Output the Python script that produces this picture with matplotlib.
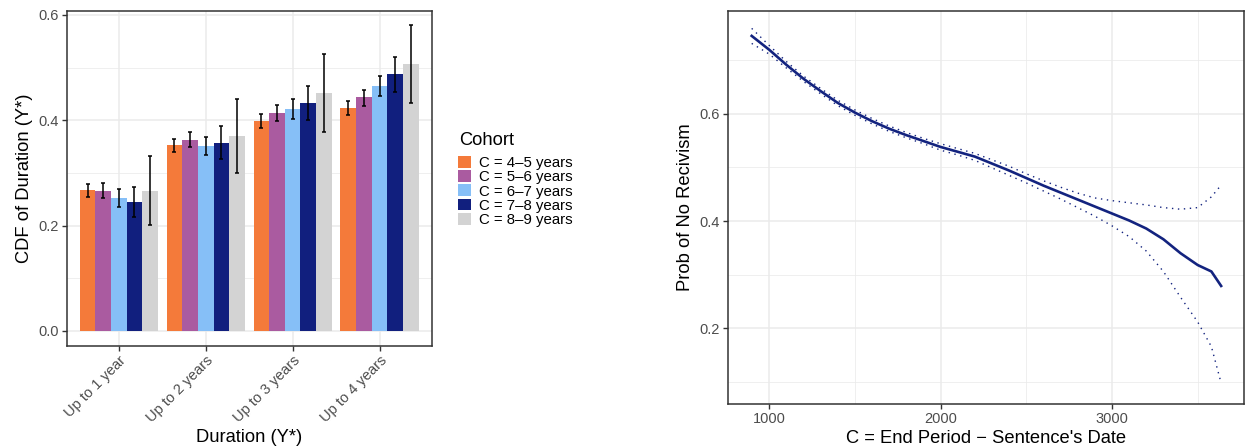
import numpy as np
import matplotlib
matplotlib.use("Agg")
import matplotlib.pyplot as plt
from matplotlib.ticker import FixedLocator

plt.rcParams['font.family'] = ['Liberation Sans', 'DejaVu Sans']

# ---- left panel data: CDF of duration by cohort ----
durations = ['Up to 1 year', 'Up to 2 years', 'Up to 3 years', 'Up to 4 years']
cohorts = ['C = 4\u20135 years', 'C = 5\u20136 years', 'C = 6\u20137 years',
           'C = 7\u20138 years', 'C = 8\u20139 years']
cohort_colors = ['#F47A3A', '#AA5BA0', '#86BFF7', '#111F7E', '#D3D3D3']

cdf_4_5 = [0.268, 0.353, 0.399, 0.423]
cdf_5_6 = [0.266, 0.363, 0.414, 0.444]
cdf_6_7 = [0.253, 0.351, 0.422, 0.465]
cdf_7_8 = [0.245, 0.357, 0.433, 0.488]
cdf_8_9 = [0.266, 0.370, 0.452, 0.507]

lo_4_5 = [0.255, 0.339, 0.385, 0.410]
hi_4_5 = [0.279, 0.365, 0.412, 0.437]
lo_5_6 = [0.253, 0.349, 0.399, 0.428]
hi_5_6 = [0.280, 0.377, 0.429, 0.458]
lo_6_7 = [0.236, 0.334, 0.403, 0.446]
hi_6_7 = [0.269, 0.369, 0.440, 0.484]
lo_7_8 = [0.216, 0.326, 0.401, 0.454]
hi_7_8 = [0.273, 0.389, 0.466, 0.520]
lo_8_9 = [0.201, 0.299, 0.378, 0.433]
hi_8_9 = [0.332, 0.441, 0.525, 0.581]

# ---- right panel data: probability of no recidivism ----
period = [897, 1000, 1100, 1200, 1300, 1400, 1500, 1600, 1700, 1800, 1900,
          2000, 2100, 2200, 2300, 2400, 2500, 2600, 2700, 2800, 2900, 3000,
          3100, 3200, 3300, 3400, 3500, 3580, 3637]
prob = [0.745, 0.719, 0.691, 0.665, 0.642, 0.620, 0.602, 0.586, 0.572, 0.560,
        0.549, 0.538, 0.529, 0.520, 0.507, 0.494, 0.480, 0.466, 0.453, 0.440,
        0.427, 0.414, 0.401, 0.386, 0.366, 0.340, 0.318, 0.306, 0.279]
prob_hi = [0.759, 0.727, 0.697, 0.670, 0.647, 0.625, 0.607, 0.591, 0.577, 0.565,
           0.554, 0.544, 0.535, 0.526, 0.514, 0.502, 0.488, 0.475, 0.463, 0.452,
           0.443, 0.438, 0.434, 0.430, 0.425, 0.422, 0.425, 0.445, 0.467]
prob_lo = [0.731, 0.711, 0.685, 0.660, 0.637, 0.615, 0.597, 0.581, 0.567, 0.555,
           0.544, 0.532, 0.523, 0.513, 0.499, 0.485, 0.471, 0.456, 0.441, 0.425,
           0.409, 0.391, 0.371, 0.344, 0.306, 0.258, 0.212, 0.166, 0.098]

means = [cdf_4_5, cdf_5_6, cdf_6_7, cdf_7_8, cdf_8_9]
lows = [lo_4_5, lo_5_6, lo_6_7, lo_7_8, lo_8_9]
highs = [hi_4_5, hi_5_6, hi_6_7, hi_7_8, hi_8_9]

grid_major = '#EBEBEB'
text_grey = '#4D4D4D'
border = '#333333'
tick_size = 10.5
title_size = 13.2

fig = plt.figure(figsize=(12.48, 4.47), dpi=100)
ax1 = fig.add_axes([0.0534, 0.2266, 0.2925, 0.7494])
ax2 = fig.add_axes([0.5831, 0.0962, 0.4135, 0.8799])


def gg_style(ax):
    ax.set_axisbelow(True)
    for s in ax.spines.values():
        s.set_color(border)
        s.set_linewidth(1.1)
    ax.tick_params(which='major', length=3.5, width=1.0, color=border,
                   labelcolor=text_grey, labelsize=tick_size, pad=2)
    ax.tick_params(which='minor', length=0)
    ax.grid(True, which='major', color=grid_major, lw=1.1)
    ax.grid(True, which='minor', color=grid_major, lw=0.55)


# left: grouped bars with error bars
xpos = np.arange(1, len(durations) + 1)
bw = 0.9 / len(cohorts)
for i, (m, lo, hi) in enumerate(zip(means, lows, highs)):
    xs = xpos - 0.45 + bw * (i + 0.5)
    ax1.bar(xs, m, width=bw, color=cohort_colors[i], label=cohorts[i], zorder=2)
    err = [np.array(m) - np.array(lo), np.array(hi) - np.array(m)]
    ax1.errorbar(xs, m, yerr=err, fmt='none', ecolor='black', elinewidth=1.1,
                 capsize=1.5, capthick=1.1, zorder=3)

ax1.set_xlim(0.4, 4.6)
ax1.set_ylim(-0.028, 0.608)
ax1.set_xticks(xpos)
ax1.set_xticklabels(durations, rotation=45, ha='right', rotation_mode='anchor')
ax1.set_yticks([0.0, 0.2, 0.4, 0.6])
ax1.set_yticklabels(['0.0', '0.2', '0.4', '0.6'])
ax1.yaxis.set_minor_locator(FixedLocator([0.1, 0.3, 0.5]))
gg_style(ax1)
ax1.grid(False, which='minor', axis='x')
ax1.set_xlabel('Duration (Y*)', fontsize=title_size, labelpad=3)
ax1.set_ylabel('CDF of Duration (Y*)', fontsize=title_size, labelpad=4)

# legend (title placed separately so its gap to the keys matches)
fig.text(459 / 1248, 1 - 132 / 447, 'Cohort', fontsize=title_size,
         ha='left', va='top')
handles, labels = ax1.get_legend_handles_labels()
leg = fig.legend(handles, labels, loc='upper left',
                 bbox_to_anchor=(458 / 1248, 1 - 156 / 447), frameon=False,
                 fontsize=10.8, handlelength=0.85, handleheight=0.85,
                 handletextpad=0.55, labelspacing=0.0, borderaxespad=0,
                 borderpad=0)

# right: smoothed probability with confidence band
line_col = '#13237F'
ax2.plot(period, prob, color=line_col, lw=1.9, zorder=3)
ax2.plot(period, prob_hi, color=line_col, lw=1.0, ls=(0, (1.0, 3.3)), zorder=3)
ax2.plot(period, prob_lo, color=line_col, lw=1.0, ls=(0, (1.0, 3.3)), zorder=3)
ax2.set_xlim(757, 3769)
ax2.set_ylim(0.059, 0.792)
ax2.set_xticks([1000, 2000, 3000])
ax2.xaxis.set_minor_locator(FixedLocator([1500, 2500, 3500]))
ax2.set_yticks([0.2, 0.4, 0.6])
ax2.set_yticklabels(['0.2', '0.4', '0.6'])
ax2.yaxis.set_minor_locator(FixedLocator([0.1, 0.3, 0.5, 0.7]))
gg_style(ax2)
ax2.set_xlabel("C = End Period \u2212 Sentence's Date", fontsize=title_size,
               labelpad=3)
ax2.set_ylabel('Prob of No Recivism', fontsize=title_size, labelpad=4)

fig.savefig('out.png', dpi=100)
